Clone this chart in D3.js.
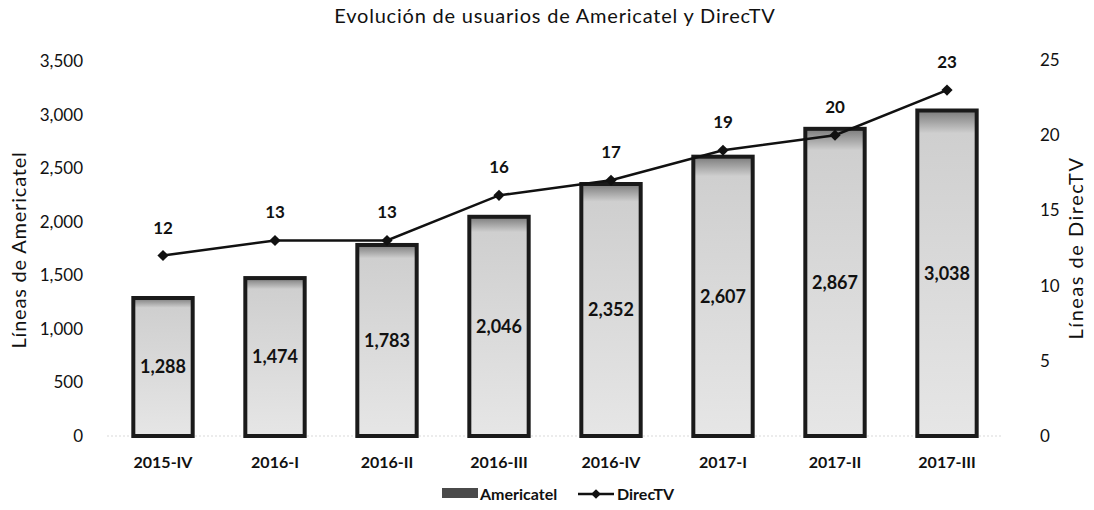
<!DOCTYPE html>
<html>
<head>
<meta charset="utf-8">
<script src="https://cdn.jsdelivr.net/npm/d3@7"></script>
<style>
  body { margin: 0; background: #fff; }
  svg text { font-family: Lato, "Open Sans", sans-serif; fill: #111; }
</style>
</head>
<body>
<div id="chart"></div>
<script>
// data
const periods = ["2015-IV", "2016-I", "2016-II", "2016-III", "2016-IV", "2017-I", "2017-II", "2017-III"];
const americatel = [1288, 1474, 1783, 2046, 2352, 2607, 2867, 3038];
const directv = [12, 13, 13, 16, 17, 19, 20, 23];
const leftTicks = [0, 500, 1000, 1500, 2000, 2500, 3000, 3500];
const rightTicks = [0, 5, 10, 15, 20, 25];

const width = 1094, height = 510;

const svg = d3.select("#chart")
  .append("svg")
  .attr("width", width)
  .attr("height", height);

const x = d3.scaleBand().domain(periods).range([107, 1003]).paddingInner(0.47).paddingOuter(0.235);
const yL = d3.scaleLinear().domain([0, 3500]).range([436, 61]);
const yR = d3.scaleLinear().domain([0, 25]).range([436, 60]);

// title
svg.append("text")
  .attr("x", 555)
  .attr("y", 23)
  .attr("text-anchor", "middle")
  .style("font-size", "20px")
  .style("letter-spacing", "0.8px")
  .text("Evolución de usuarios de Americatel y DirecTV");

// baseline
svg.append("line")
  .attr("x1", 107).attr("x2", 1003)
  .attr("y1", yL(0)).attr("y2", yL(0))
  .attr("stroke", "#d9d9d9")
  .attr("stroke-dasharray", "2,2");

// left axis
const axL = svg.append("g")
  .attr("transform", "translate(83,0)")
  .call(d3.axisLeft(yL).tickValues(leftTicks).tickSize(0).tickPadding(0).tickFormat(d3.format(",")));
axL.select(".domain").remove();
axL.selectAll("text").style("font-size", "17px");

// right axis
const axR = svg.append("g")
  .attr("transform", "translate(1040,0)")
  .call(d3.axisRight(yR).tickValues(rightTicks).tickSize(0).tickPadding(0));
axR.select(".domain").remove();
axR.selectAll("text").style("font-size", "17px");

// x axis
const axX = svg.append("g")
  .attr("transform", "translate(0,457)")
  .call(d3.axisBottom(x).tickSize(0).tickPadding(0));
axX.select(".domain").remove();
axX.selectAll("text").style("font-size", "16px").style("font-weight", "bold").attr("dy", "0.71em");

// axis titles
svg.append("text")
  .attr("transform", "translate(26,250) rotate(-90)")
  .attr("text-anchor", "middle")
  .style("font-size", "20px")
  .style("letter-spacing", "0.8px")
  .text("Líneas de Americatel");

svg.append("text")
  .attr("transform", "translate(1083,248) rotate(-90)")
  .attr("text-anchor", "middle")
  .style("font-size", "20px")
  .style("letter-spacing", "1.5px")
  .text("Líneas de DirecTV");

// bars
const bars = periods.map((p, i) => ({ period: p, value: americatel[i] }));

const defs = svg.append("defs");
const grad = defs.append("linearGradient")
  .attr("id", "barFill")
  .attr("x1", 0).attr("y1", 0).attr("x2", 0).attr("y2", 1);
grad.append("stop").attr("offset", "0%").attr("stop-color", "#7a7a7a");
grad.append("stop").attr("offset", "7%").attr("stop-color", "#cfcfcf");
grad.append("stop").attr("offset", "100%").attr("stop-color", "#e6e6e6");

svg.selectAll(".bar")
  .data(bars)
  .enter()
  .append("rect")
  .attr("class", "bar")
  .attr("x", (d) => x(d.period))
  .attr("y", (d) => yL(d.value))
  .attr("width", x.bandwidth())
  .attr("height", (d) => yL(0) - yL(d.value))
  .attr("fill", "url(#barFill)")
  .attr("stroke", "#1a1a1a")
  .attr("stroke-width", 4);

svg.selectAll(".bar-label")
  .data(bars)
  .enter()
  .append("text")
  .attr("class", "bar-label")
  .attr("x", (d) => x(d.period) + x.bandwidth() / 2)
  .attr("y", (d) => (yL(d.value) + yL(0)) / 2)
  .attr("dy", "0.35em")
  .attr("text-anchor", "middle")
  .style("font-size", "18px")
  .style("font-weight", "bold")
  .text((d) => d3.format(",")(d.value));

// line
const pts = periods.map((p, i) => ({ period: p, value: directv[i] }));
const cx = (d) => x(d.period) + x.bandwidth() / 2;

svg.append("path")
  .datum(pts)
  .attr("fill", "none")
  .attr("stroke", "#111")
  .attr("stroke-width", 2.5)
  .attr("d", d3.line().x(cx).y((d) => yR(d.value)));

svg.selectAll(".pt")
  .data(pts)
  .enter()
  .append("path")
  .attr("class", "pt")
  .attr("transform", (d) => `translate(${cx(d)},${yR(d.value)})`)
  .attr("d", d3.symbol(d3.symbolDiamond2, 80))
  .attr("fill", "#111");

svg.selectAll(".pt-label")
  .data(pts)
  .enter()
  .append("text")
  .attr("class", "pt-label")
  .attr("x", cx)
  .attr("y", (d) => yR(d.value) - 22)
  .attr("text-anchor", "middle")
  .style("font-size", "17px")
  .style("font-weight", "bold")
  .text((d) => d.value);

// legend
const lg = svg.append("g").attr("transform", "translate(0,494)");
lg.append("rect")
  .attr("x", 442).attr("y", -6)
  .attr("width", 36).attr("height", 10)
  .attr("fill", "#4a4a4a");
lg.append("text")
  .attr("x", 480).attr("y", 0)
  .attr("dy", "0.35em")
  .style("font-size", "16px")
  .style("font-weight", "bold")
  .text("Americatel");
lg.append("line")
  .attr("x1", 578).attr("x2", 614)
  .attr("y1", 0).attr("y2", 0)
  .attr("stroke", "#111").attr("stroke-width", 2.5);
lg.append("path")
  .attr("transform", "translate(596,0)")
  .attr("d", d3.symbol(d3.symbolDiamond2, 60))
  .attr("fill", "#111");
lg.append("text")
  .attr("x", 617).attr("y", 0)
  .attr("dy", "0.35em")
  .style("font-size", "16px")
  .style("font-weight", "bold")
  .text("DirecTV");
</script>
</body>
</html>
